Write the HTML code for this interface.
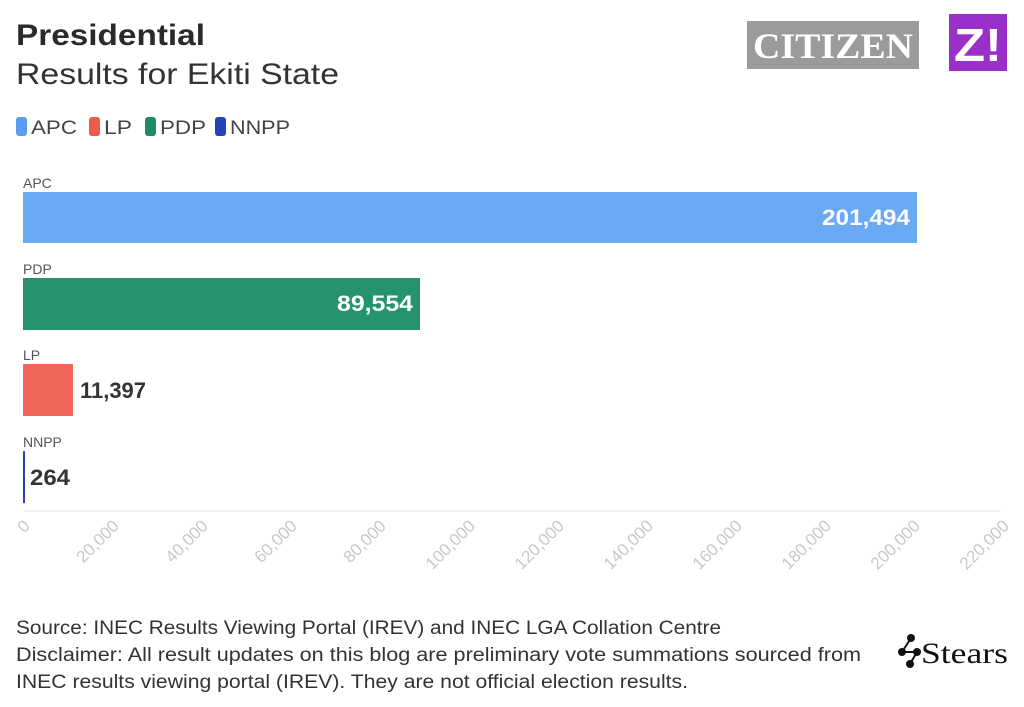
<!DOCTYPE html>
<html><head><meta charset="utf-8"><style>
body{margin:0;background:#fff;width:1024px;height:702px;overflow:hidden;font-family:"Liberation Sans",sans-serif}
</style></head><body>
<svg width="1024" height="702" xmlns="http://www.w3.org/2000/svg" font-family="Liberation Sans, sans-serif">
<rect width="1024" height="702" fill="#fff"/>
<text x="16" y="45" font-size="30" font-weight="bold" fill="#2a2a2a" textLength="189" lengthAdjust="spacingAndGlyphs">Presidential</text>
<text x="16" y="84" font-size="30" fill="#333" textLength="323" lengthAdjust="spacingAndGlyphs">Results for Ekiti State</text>
<rect x="747" y="21" width="172" height="48" fill="#9b9b9b"/>
<text x="833" y="58" font-size="36" font-family="Liberation Serif, serif" font-weight="bold" fill="#fff" text-anchor="middle" textLength="160" lengthAdjust="spacingAndGlyphs">CITIZEN</text>
<rect x="949" y="14" width="58" height="57" fill="#9a2fc9"/>
<text x="978" y="61" font-size="46" font-weight="bold" fill="#fff" text-anchor="middle" textLength="48" lengthAdjust="spacingAndGlyphs">Z!</text>
<g font-size="19" fill="#444">
<rect x="16" y="117" width="11" height="19" rx="3" fill="#5b9cf0"/><text x="31" y="134" textLength="46" lengthAdjust="spacingAndGlyphs">APC</text>
<rect x="89" y="117" width="11" height="19" rx="3" fill="#ee5a4b"/><text x="104" y="134" textLength="28" lengthAdjust="spacingAndGlyphs">LP</text>
<rect x="145" y="117" width="11" height="19" rx="3" fill="#1f8a68"/><text x="160" y="134" textLength="46" lengthAdjust="spacingAndGlyphs">PDP</text>
<rect x="215" y="117" width="11" height="19" rx="3" fill="#2244b8"/><text x="230" y="134" textLength="60" lengthAdjust="spacingAndGlyphs">NNPP</text>
</g>
<g font-size="14" fill="#555">
<text x="23" y="188">APC</text><text x="23" y="274">PDP</text><text x="23" y="360">LP</text><text x="23" y="447">NNPP</text>
</g>
<rect x="23" y="192" width="894" height="51" fill="#6aa9f4"/>
<rect x="23" y="278" width="397" height="52" fill="#24936e"/>
<rect x="23" y="364" width="50" height="52" fill="#f0645a"/>
<rect x="23" y="451" width="2" height="52" fill="#2244b8"/>
<g font-size="22" font-weight="bold">
<text x="910" y="225" fill="#fff" text-anchor="end" textLength="88" lengthAdjust="spacingAndGlyphs">201,494</text>
<text x="413" y="311" fill="#fff" text-anchor="end" textLength="76" lengthAdjust="spacingAndGlyphs">89,554</text>
<text x="80" y="398" fill="#333" textLength="66" lengthAdjust="spacingAndGlyphs">11,397</text>
<text x="30" y="485" fill="#333" textLength="40" lengthAdjust="spacingAndGlyphs">264</text>
</g>
<line x1="23" y1="511" x2="1001" y2="511" stroke="#eee" stroke-width="1.5"/>
<g font-size="17" fill="#c8c8c8" text-anchor="end">
<text transform="translate(31,527) rotate(-45)">0</text>
<text transform="translate(120,527) rotate(-45)">20,000</text>
<text transform="translate(209,527) rotate(-45)">40,000</text>
<text transform="translate(298,527) rotate(-45)">60,000</text>
<text transform="translate(387,527) rotate(-45)">80,000</text>
<text transform="translate(476,527) rotate(-45)">100,000</text>
<text transform="translate(565,527) rotate(-45)">120,000</text>
<text transform="translate(654,527) rotate(-45)">140,000</text>
<text transform="translate(743,527) rotate(-45)">160,000</text>
<text transform="translate(832,527) rotate(-45)">180,000</text>
<text transform="translate(921,527) rotate(-45)">200,000</text>
<text transform="translate(1010,527) rotate(-45)">220,000</text>
</g>
<g font-size="19" fill="#333">
<text x="16" y="634" textLength="705" lengthAdjust="spacingAndGlyphs">Source: INEC Results Viewing Portal (IREV) and INEC LGA Collation Centre</text>
<text x="16" y="661" textLength="845" lengthAdjust="spacingAndGlyphs">Disclaimer: All result updates on this blog are preliminary vote summations sourced from</text>
<text x="16" y="688" textLength="672" lengthAdjust="spacingAndGlyphs">INEC results viewing portal (IREV). They are not official election results.</text>
</g>
<g stroke="#111" stroke-width="2" fill="#111">
<line x1="911" y1="638" x2="902" y2="652"/><line x1="902" y1="652" x2="917" y2="652"/><line x1="917" y1="652" x2="910" y2="664"/>
<circle cx="911" cy="638" r="3"/><circle cx="902" cy="652" r="3"/><circle cx="917" cy="652" r="3"/><circle cx="910" cy="664" r="3"/>
</g>
<text x="921" y="663" font-size="30" font-family="Liberation Serif, serif" fill="#111" textLength="87" lengthAdjust="spacingAndGlyphs">Stears</text>
</svg>
</body></html>
